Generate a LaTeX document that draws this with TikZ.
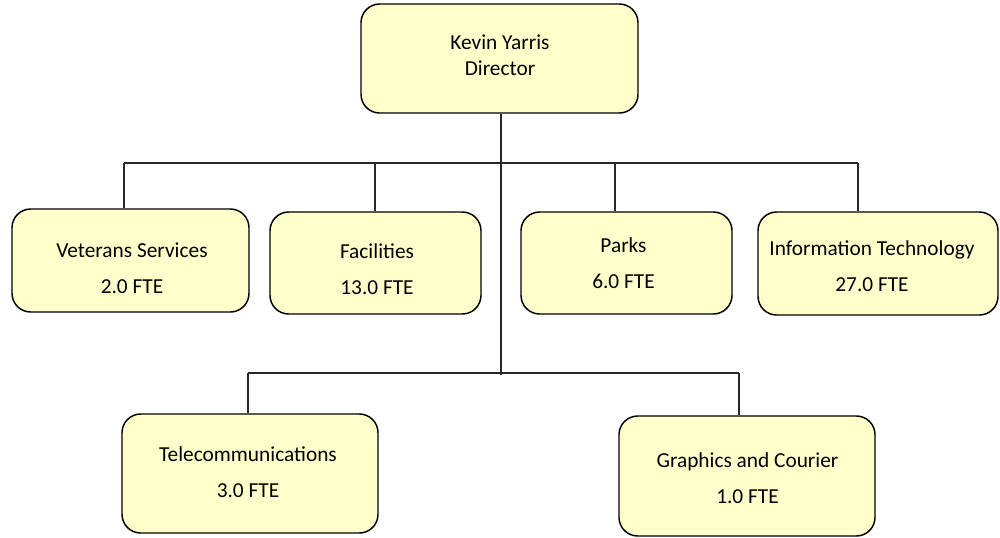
\documentclass[tikz,border=0pt]{standalone}
\usepackage{fontspec}
\setmainfont{Carlito}
\definecolor{boxfill}{RGB}{255,255,204}
\definecolor{linecol}{RGB}{40,40,40}
\begin{document}
\begin{tikzpicture}[x=0.75pt,y=-0.75pt,
  unit/.style={draw=black, line width=1.1pt, fill=boxfill, rounded corners=14pt,
    inner sep=0pt},
  label/.style={inner sep=0pt, align=center, font=\fontsize{16}{27}\selectfont},
  toplabel/.style={inner sep=0pt, align=center, font=\fontsize{16}{19.5}\selectfont},
  link/.style={draw=linecol, line width=0.9pt}]
\useasboundingbox (0,0) rectangle (1000,537);

% boxes
\node[unit, minimum width=207.75pt, minimum height=81.75pt] (dir) at (499.5,58.5) {};
\node[unit, minimum width=177.75pt, minimum height=77.25pt] (vet) at (130.5,260.5) {};
\node[unit, minimum width=158.25pt, minimum height=76.5pt] (fac) at (375.5,263) {};
\node[unit, minimum width=158.25pt, minimum height=76.5pt] (parks) at (626.5,263) {};
\node[unit, minimum width=180pt, minimum height=77.25pt] (it) at (878,263.5) {};
\node[unit, minimum width=192pt, minimum height=89.25pt] (tel) at (250,473.5) {};
\node[unit, minimum width=192pt, minimum height=90pt] (gra) at (747,476) {};

% texts
\node[toplabel] (dirt) at (500,55) {Kevin Yarris\\Director};
\node[label] (vett) at (132,268.5) {Veterans Services\\2.0 FTE};
\node[label] (fact) at (377,269) {Facilities\\13.0 FTE};
\node[label] (parkst) at (623.5,263.5) {Parks\\6.0 FTE};
\node[label] (itt) at (872,266.5) {Information Technology\\27.0 FTE};
\node[label] (telt) at (248,472.5) {Telecommunications\\3.0 FTE};
\node[label] (grat) at (747.5,478.5) {Graphics and Courier\\1.0 FTE};

% junction points
\coordinate (j1) at (124,163);
\coordinate (j2) at (375,163);
\coordinate (j3) at (615,163);
\coordinate (j4) at (858,163);
\coordinate (spine) at (501,375);
\coordinate (k1) at (248,373);
\coordinate (k2) at (739,373);

% connectors
\draw[link] (dir.south -| spine) -- (spine);
\draw[link] (j1) -- (j4);
\draw[link] (k1) -- (k2);
\draw[link] (j1) -- (j1 |- vet.north);
\draw[link] (j2) -- (j2 |- fac.north);
\draw[link] (j3) -- (j3 |- parks.north);
\draw[link] (j4) -- (j4 |- it.north);
\draw[link] (k1) -- (k1 |- tel.north);
\draw[link] (k2) -- (k2 |- gra.north);
\end{tikzpicture}
\end{document}
